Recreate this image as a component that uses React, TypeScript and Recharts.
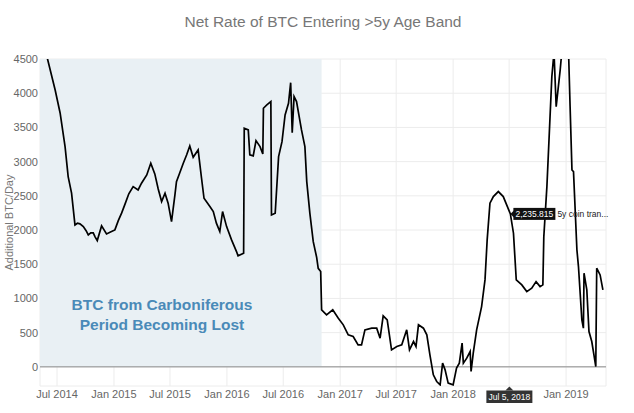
import React from 'react';
import {
  LineChart,
  Line,
  XAxis,
  YAxis,
  CartesianGrid,
  ReferenceArea,
  ReferenceLine,
  ReferenceDot,
} from 'recharts';

const titleText = 'Net Rate of BTC Entering >5y Age Band';
const yAxisTitle = 'Additional BTC/Day';
const annotationLines = ['BTC from Carboniferous', 'Period Becoming Lost'];
const seriesName = '5y coin tran...';

const dates = [
  '2014-05-28', '2014-06-25', '2014-07-11', '2014-07-27', '2014-08-06', '2014-08-17', '2014-08-28',
  '2014-09-05', '2014-09-13', '2014-09-24', '2014-10-03', '2014-10-10', '2014-10-18', '2014-10-26',
  '2014-11-01', '2014-11-08', '2014-11-22', '2014-12-08', '2014-12-24', '2015-01-04', '2015-01-15',
  '2015-01-26', '2015-02-06', '2015-02-18', '2015-03-04', '2015-03-20', '2015-03-31', '2015-04-17',
  '2015-04-30', '2015-05-13', '2015-05-24', '2015-06-04', '2015-06-15', '2015-06-25', '2015-07-06',
  '2015-07-17', '2015-07-22', '2015-08-02', '2015-08-13', '2015-08-24', '2015-09-03', '2015-09-14',
  '2015-09-30', '2015-10-11', '2015-10-19', '2015-11-07', '2015-11-18', '2015-11-28', '2015-12-09',
  '2015-12-18', '2015-12-31', '2016-01-16', '2016-02-01', '2016-02-06', '2016-02-24', '2016-02-26',
  '2016-03-10', '2016-03-15', '2016-03-26', '2016-04-04', '2016-04-17', '2016-04-26', '2016-04-28',
  '2016-05-09', '2016-05-22', '2016-05-24', '2016-06-05', '2016-06-16', '2016-06-27', '2016-07-07',
  '2016-07-18', '2016-07-25', '2016-07-30', '2016-08-05', '2016-08-13', '2016-08-29', '2016-09-09',
  '2016-09-15', '2016-09-25', '2016-10-06', '2016-10-17', '2016-10-22', '2016-10-30', '2016-11-02',
  '2016-11-18', '2016-12-08', '2016-12-26', '2017-01-11', '2017-01-27', '2017-02-12', '2017-02-28',
  '2017-03-11', '2017-03-22', '2017-04-13', '2017-04-29', '2017-05-10', '2017-05-20', '2017-06-02',
  '2017-06-16', '2017-07-03', '2017-07-19', '2017-08-04', '2017-08-13', '2017-08-26', '2017-09-03',
  '2017-09-11', '2017-09-27', '2017-10-08', '2017-10-18', '2017-10-29', '2017-11-09', '2017-11-20',
  '2017-11-28', '2017-12-06', '2017-12-16', '2018-01-01', '2018-01-12', '2018-01-21', '2018-01-30',
  '2018-02-03', '2018-02-14', '2018-02-25', '2018-02-28', '2018-03-07', '2018-03-18', '2018-04-03',
  '2018-04-14', '2018-04-21', '2018-04-30', '2018-05-11', '2018-05-27', '2018-06-12', '2018-07-05',
  '2018-07-15', '2018-07-24', '2018-08-11', '2018-08-27', '2018-09-12', '2018-09-26', '2018-10-09',
  '2018-10-18', '2018-10-21', '2018-10-31', '2018-11-16', '2018-11-23', '2018-11-30', '2018-12-13',
  '2018-12-18', '2019-01-09', '2019-01-14', '2019-01-20', '2019-01-25', '2019-02-05', '2019-02-10',
  '2019-02-21', '2019-02-26', '2019-02-28', '2019-03-09', '2019-03-16', '2019-03-25', '2019-04-01',
  '2019-04-07', '2019-04-10', '2019-04-21', '2019-04-30',
];

const values = [
  4560, 4047, 3711, 3219, 2781, 2540, 2075,
  2100, 2090, 2050, 1990, 1929, 1960, 1958,
  1900, 1846, 2060, 1943, 1977, 2002, 2138,
  2250, 2382, 2530, 2635, 2586, 2684, 2805,
  2976, 2820, 2600, 2416, 2538, 2392, 2123,
  2513, 2708, 2840, 2976, 3100, 3229, 3064,
  3171, 2757, 2464, 2343, 2270, 2100, 1977,
  2270, 2050, 1856, 1685, 1622, 1661, 3488,
  3463, 3098, 3083, 3307, 3219, 3112, 3780,
  3828, 3877, 2221, 2246, 3073, 3292, 3682,
  3853, 4154, 3423, 3950, 3877, 3463, 3219,
  2708, 2246, 1830, 1600, 1440, 1393, 833,
  760, 833, 711, 614, 468, 443, 321,
  321, 541, 565, 565, 419, 745, 687,
  248, 297, 321, 541, 248, 370, 297,
  614, 565, 468, 175, -117, -214, -263,
  54, -44, -238, -263, -19, 54, 346,
  54, 127, 224, -68, 200, 541, 881,
  1271, 1856, 2392, 2489, 2562, 2489, 2235.815,
  1953, 1271, 1198, 1100, 1150, 1246, 1173,
  1198, 1900, 2635, 4242, 4600, 3803, 4340,
  4600, 4600, 3803, 2878, 2854, 1710, 1466,
  687, 565, 1369, 1125, 516, 370, 175,
  5, 1442, 1344, 1125,
];

const xTickDates = [
  '2014-07-01', '2015-01-01', '2015-07-01', '2016-01-01', '2016-07-01',
  '2017-01-01', '2017-07-01', '2018-01-01', '2018-07-01', '2019-01-01',
];
const yTicks = [0, 500, 1000, 1500, 2000, 2500, 3000, 3500, 4000, 4500];
const yDomain = [-280, 4500];
const xDomainDates = ['2014-05-07', '2019-05-10'];
const shadeDates = ['2014-05-07', '2016-11-02'];
const tooltipDate = '2018-07-05';
const tooltipValue = 2235.815;

const monthNames = ['Jan', 'Feb', 'Mar', 'Apr', 'May', 'Jun', 'Jul', 'Aug', 'Sep', 'Oct', 'Nov', 'Dec'];
const ts = (d: string) => Date.parse(d + 'T00:00:00Z');

const data = dates.map((d, i) => ({ t: ts(d), v: values[i] }));

const tipTs = ts(tooltipDate);
const tipDateObj = new Date(tipTs);

const fmtTick = (v: number) => {
  const d = new Date(v);
  if (d.getUTCFullYear() === tipDateObj.getUTCFullYear() && d.getUTCMonth() === tipDateObj.getUTCMonth()) return '';
  return `${monthNames[d.getUTCMonth()]} ${d.getUTCFullYear()}`;
};

const tipDateLabel = `${monthNames[tipDateObj.getUTCMonth()]} ${tipDateObj.getUTCDate()}, ${tipDateObj.getUTCFullYear()}`;
const tipValueLabel = tooltipValue.toLocaleString('en-US', { minimumFractionDigits: 3, maximumFractionDigits: 3 });

const FONT = '"Liberation Sans", Arial, Helvetica, sans-serif';

const ValueTip = (props: any) => {
  const { cx, cy } = props;
  if (cx == null || cy == null) return null;
  return (
    <g>
      <path d={`M${cx},${cy} L${cx + 4},${cy - 4} L${cx + 4},${cy + 4} Z`} fill="#111" />
      <rect x={cx + 3} y={cy - 6} width={42} height={12} fill="#111" />
      <text x={cx + 24} y={cy + 3} textAnchor="middle" fill="#fff" fontSize={8.5} fontFamily={FONT}>
        {tipValueLabel}
      </text>
      <text x={cx + 47} y={cy + 3} fill="#222" fontSize={8.5} fontFamily={FONT}>
        {seriesName}
      </text>
    </g>
  );
};

const DateTip = (props: any) => {
  const { cx, cy } = props;
  if (cx == null || cy == null) return null;
  return (
    <g>
      <path d={`M${cx - 1},${cy + 0.5} L${cx - 5},${cy + 4.5} L${cx + 3},${cy + 4.5} Z`} fill="#333" />
      <rect x={cx - 24} y={cy + 4.5} width={46} height={12.5} fill="#333" />
      <text x={cx - 1} y={cy + 14} textAnchor="middle" fill="#fff" fontSize={8.5} fontFamily={FONT}>
        {tipDateLabel}
      </text>
    </g>
  );
};

const YLabel = (props: any) => {
  const vb = props.viewBox || { x: 0, y: 0, width: 0, height: 0 };
  const x = vb.x + 9;
  const y = vb.y + vb.height * 0.5;
  return (
    <text
      x={x}
      y={y}
      transform={`rotate(-90, ${x}, ${y})`}
      textAnchor="middle"
      dominantBaseline="central"
      fill="#777"
      fontSize={11}
      fontFamily={FONT}
    >
      {yAxisTitle}
    </text>
  );
};

export default function App() {
  return (
    <div style={{ position: 'absolute', left: 0, top: 0, width: 634, height: 413, background: '#fff', fontFamily: FONT }}>
      <div
        style={{
          position: 'absolute',
          left: 40,
          top: 13,
          width: 566,
          textAlign: 'center',
          fontSize: 15.5,
          lineHeight: '18px',
          color: '#777',
        }}
      >
        {titleText}
      </div>
      <LineChart
        width={634}
        height={413}
        data={data}
        margin={{ top: 59, right: 28, left: 0, bottom: 0 }}
        style={{ fontFamily: FONT }}
      >
        <CartesianGrid stroke="#ececec" strokeWidth={1} />
        <XAxis
          dataKey="t"
          type="number"
          domain={[ts(xDomainDates[0]), ts(xDomainDates[1])]}
          allowDataOverflow
          ticks={xTickDates.map(ts)}
          tickFormatter={fmtTick}
          axisLine={false}
          tickLine={false}
          tickSize={0}
          tickMargin={4}
          height={27}
          interval={0}
          tick={{ fill: '#666', fontSize: 11 }}
        />
        <YAxis
          type="number"
          domain={yDomain}
          allowDataOverflow
          ticks={yTicks}
          axisLine={false}
          tickLine={false}
          tickSize={0}
          tickMargin={2}
          width={40}
          interval={0}
          tick={{ fill: '#666', fontSize: 11 }}
          label={<YLabel />}
        />
        <ReferenceArea
          x1={ts(shadeDates[0])}
          x2={ts(shadeDates[1])}
          y1={0}
          y2={yTicks[yTicks.length - 1]}
          fill="#e9f0f4"
          fillOpacity={1}
          stroke="none"
          ifOverflow="visible"
          zIndex={-50}
        />
        <ReferenceLine y={0} stroke="#8a8a8a" strokeWidth={1} zIndex={-40} />
        <Line
          type="linear"
          dataKey="v"
          stroke="#000"
          strokeWidth={1.7}
          dot={false}
          activeDot={false}
          isAnimationActive={false}
        />
        <ReferenceDot x={tipTs} y={tooltipValue} r={0} ifOverflow="visible" shape={ValueTip} />
        <ReferenceDot x={tipTs} y={yDomain[0]} r={0} ifOverflow="visible" shape={DateTip} />
      </LineChart>
      <div
        style={{
          position: 'absolute',
          left: 62,
          top: 295,
          width: 200,
          textAlign: 'center',
          fontSize: 15.5,
          lineHeight: '20px',
          fontWeight: 'bold',
          color: '#4a8ab8',
        }}
      >
        {annotationLines.map((l) => (
          <div key={l}>{l}</div>
        ))}
      </div>
    </div>
  );
}
